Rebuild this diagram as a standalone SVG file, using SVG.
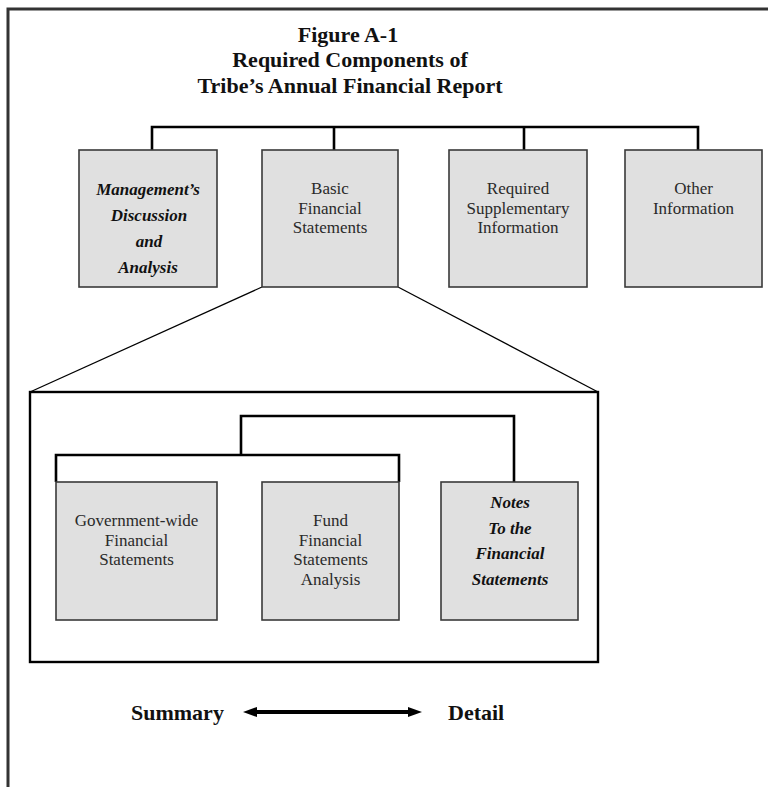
<svg xmlns="http://www.w3.org/2000/svg" width="768" height="787" viewBox="0 0 768 787">
<defs>
<style>
.frame{fill:none;stroke:#333;stroke-width:3}
.box{fill:#e0e0e0;stroke:#3a3a3a;stroke-width:1.6}
.conn{fill:none;stroke:#000;stroke-width:2.6}
.diag{fill:none;stroke:#000;stroke-width:1.3}
.inner{fill:none;stroke:#000;stroke-width:2.4}
.title{font-family:"Liberation Serif","Times New Roman",serif;font-weight:bold;font-size:22px;fill:#111;text-anchor:middle}
.lbl{font-family:"Liberation Serif","Times New Roman",serif;font-size:17px;fill:#2a2a2a;text-anchor:middle}
.script{font-family:"Liberation Serif","Times New Roman",serif;font-style:italic;font-weight:bold;font-size:17px;fill:#111;text-anchor:middle}
.legend{font-family:"Liberation Serif","Times New Roman",serif;font-weight:bold;font-size:22px;fill:#111}
</style>
<marker id="ah" viewBox="0 0 14 10" refX="1" refY="5" markerWidth="14" markerHeight="10" markerUnits="userSpaceOnUse" orient="auto-start-reverse">
<path d="M0,0 L14,5 L0,10 Z" fill="#000"/>
</marker>
</defs>
<rect width="768" height="787" fill="#fff"/>
<path class="frame" d="M8,787 L8,9 L768,9"/>
<g id="title">
<text class="title" x="348" y="42">Figure A-1</text>
<text class="title" x="350" y="67">Required Components of</text>
<text class="title" x="350" y="93">Tribe’s Annual Financial Report</text>
</g>
<g id="connectors">
<path class="conn" d="M152,150 L152,127 L698,127 L698,150"/>
<path class="conn" d="M334,127 L334,150"/>
<path class="conn" d="M524,127 L524,150"/>
<path class="diag" d="M262,287 L30,392"/>
<path class="diag" d="M398,287 L598,392"/>
<path class="conn" d="M241,455 L241,416 L514,416 L514,482"/>
<path class="conn" d="M56,482 L56,455 L399,455 L399,482"/>
</g>
<g id="detail-frame">
<rect class="inner" x="30" y="392" width="568" height="270"/>
</g>
<g id="mda">
<rect class="box" x="79" y="150" width="138" height="137"/>
<text class="script" x="148" y="195">Management’s</text>
<text class="script" x="149" y="221">Discussion</text>
<text class="script" x="149" y="247">and</text>
<text class="script" x="148" y="273">Analysis</text>
</g>
<g id="bfs">
<rect class="box" x="262" y="150" width="136" height="137"/>
<text class="lbl" x="330" y="194">Basic</text>
<text class="lbl" x="330" y="213.5">Financial</text>
<text class="lbl" x="330" y="233">Statements</text>
</g>
<g id="rsi">
<rect class="box" x="449" y="150" width="138" height="137"/>
<text class="lbl" x="518" y="194">Required</text>
<text class="lbl" x="518" y="213.5">Supplementary</text>
<text class="lbl" x="518" y="233">Information</text>
</g>
<g id="other">
<rect class="box" x="625" y="150" width="137" height="137"/>
<text class="lbl" x="693.5" y="194">Other</text>
<text class="lbl" x="693.5" y="214">Information</text>
</g>
<g id="gwfs">
<rect class="box" x="56" y="482" width="161" height="138"/>
<text class="lbl" x="136.5" y="526">Government-wide</text>
<text class="lbl" x="136.5" y="545.5">Financial</text>
<text class="lbl" x="136.5" y="565">Statements</text>
</g>
<g id="ffs">
<rect class="box" x="262" y="482" width="137" height="138"/>
<text class="lbl" x="330.5" y="526">Fund</text>
<text class="lbl" x="330.5" y="545.5">Financial</text>
<text class="lbl" x="330.5" y="565">Statements</text>
<text class="lbl" x="330.5" y="584.5">Analysis</text>
</g>
<g id="notes">
<rect class="box" x="441" y="482" width="137" height="138"/>
<text class="script" x="510" y="508">Notes</text>
<text class="script" x="510" y="534">To the</text>
<text class="script" x="510" y="559">Financial</text>
<text class="script" x="510" y="585">Statements</text>
</g>
<g id="legend">
<text class="legend" x="131" y="720">Summary</text>
<line x1="256" y1="712" x2="409" y2="712" stroke="#000" stroke-width="4" marker-start="url(#ah)" marker-end="url(#ah)"/>
<text class="legend" x="448" y="720">Detail</text>
</g>
</svg>
